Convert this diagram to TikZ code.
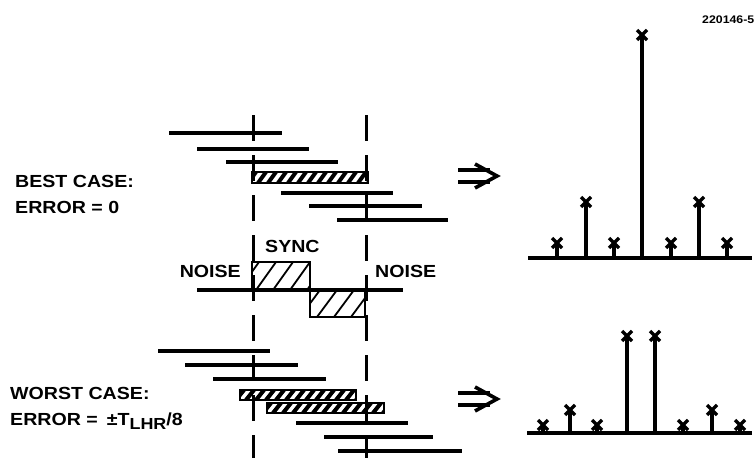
\documentclass[tikz,border=0pt]{standalone}
\usepackage{fontspec}
\setmainfont{Liberation Sans}[FakeStretch=1.12]
\newcommand\hatchbar[4]{%
  \begin{scope}
    \clip (#1,#2) rectangle (#3,#4);
    \foreach \k in {0,...,13} \draw[line width=4pt] ({#1+\k*10-4},#4) -- ({#1+\k*10+4},#2);
  \end{scope}
  \draw[boxline] (#1,#2) rectangle (#3,#4);}
\newcommand\xmk[2]{\draw[line width=3.2pt] (#1-5,#2-5) -- (#1+5,#2+5) (#1-5,#2+5) -- (#1+5,#2-5);}
\begin{document}
\begin{tikzpicture}[x=1pt,y=-1pt,
  bar/.style={line width=3.2pt},
  vline/.style={line width=3pt, dash pattern=on 26pt off 14pt},
  boxline/.style={line width=2.8pt},
  hatch/.style={line width=1.8pt},
  lbl/.style={font=\fontsize{17.5}{20}\selectfont\bfseries, inner sep=0pt, anchor=base west},
  stem/.style={line width=3.6pt},
  baseln/.style={line width=3.2pt},
  arr/.style={line width=3.6pt}]
\useasboundingbox (0,0) rectangle (756,458);

% dashed verticals
\draw[vline] (253,115) -- (253,458);
\draw[vline] (366,115) -- (366,458);

% top group of bars
\foreach \xa/\xb/\y in {169/282/133, 197/309/149, 226/338/162, 281/393/193, 309/422/206, 337/448/220}
  \draw[bar] (\xa,\y) -- (\xb,\y);
\hatchbar{252}{172}{368}{183}

% sync waveform
\begin{scope}
  \clip (252,262) rectangle (310,290);
  \foreach \b in {239,256,273,290,307} \draw[hatch] (\b,290) -- (\b+20,262);
\end{scope}
\begin{scope}
  \clip (310,290) rectangle (365,317);
  \foreach \b in {300,317,334,351,368} \draw[hatch] (\b,317) -- (\b+20,290);
\end{scope}
\draw[baseln] (197,290) -- (403,290);
\draw[boxline] (252,290) -- (252,262) -- (310,262) -- (310,317) -- (365,317) -- (365,290);

% bottom group of bars
\foreach \xa/\xb/\y in {158/270/351, 185/298/365, 213/326/379, 296/408/423, 324/433/437, 338/462/451}
  \draw[bar] (\xa,\y) -- (\xb,\y);
\hatchbar{240}{390}{356}{400}
\hatchbar{267}{403}{384}{413}

% labels
\node[lbl] (best) at (15,187) {BEST CASE:};
\node[lbl] (err0) at (15,213) {ERROR = 0};
\node[lbl] (worst) at (10,399) {WORST CASE:};
\node[lbl] (err1) at (10,425) {ERROR =\hspace{9pt}±T\raisebox{-4pt}{\fontsize{16}{16}\selectfont LHR}/8};
\node[lbl] (sync) at (265,252) {SYNC};
\node[lbl, anchor=base east] (noisel) at (241,277) {NOISE};
\node[lbl] (noiser) at (375,277) {NOISE};
\node[font=\fontsize{11}{12}\selectfont\bfseries, inner sep=0pt, anchor=base west] (fig) at (702,23) {220146-5};

% arrows
\draw[arr] (458,170) -- (490,170) (458,182) -- (490,182);
\draw[arr, line join=miter] (475,164) -- (497,176) -- (475,188);
\draw[arr] (458,393) -- (490,393) (458,405) -- (490,405);
\draw[arr, line join=miter] (475,387) -- (497,399) -- (475,411);

% top spectrum
\draw[baseln] (528,258) -- (752,258);
\foreach \x/\y in {557/243, 586/202, 614/243, 642/35, 671/243, 699/202, 727/243} {
  \draw[stem] (\x,258) -- (\x,\y);
  \xmk{\x}{\y}
}

% bottom spectrum
\draw[baseln] (527,433) -- (752,433);
\foreach \x/\y in {543/425, 570/410, 597/425, 627/336, 655/336, 683/425, 712/410, 740/425} {
  \draw[stem] (\x,433) -- (\x,\y);
  \xmk{\x}{\y}
}
\end{tikzpicture}
\end{document}
